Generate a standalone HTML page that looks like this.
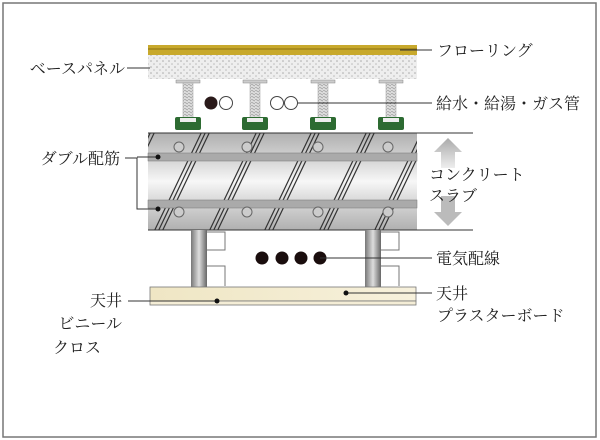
<!DOCTYPE html>
<html><head><meta charset="utf-8"><style>
body{margin:0;background:#fff}
svg{display:block}
text{font-family:"Liberation Serif","Noto Serif CJK SC","Noto Sans CJK JP",serif;font-size:16px;fill:#222}
</style></head><body>
<svg width="600" height="440" viewBox="0 0 600 440" xmlns="http://www.w3.org/2000/svg">
<defs>
<linearGradient id="slab" x1="0" y1="0" x2="0" y2="1">
<stop offset="0" stop-color="#b0b0b0"/><stop offset="0.3" stop-color="#d8d8d8"/><stop offset="0.5" stop-color="#f7f7f7"/><stop offset="0.7" stop-color="#d8d8d8"/><stop offset="1" stop-color="#b0b0b0"/></linearGradient>
<linearGradient id="post" x1="0" y1="0" x2="1" y2="0">
<stop offset="0" stop-color="#777"/><stop offset="0.5" stop-color="#ddd"/><stop offset="1" stop-color="#666"/></linearGradient>
<linearGradient id="board" x1="0" y1="0" x2="1" y2="0">
<stop offset="0" stop-color="#efe6c4"/><stop offset="1" stop-color="#f7f1dc"/></linearGradient>
<linearGradient id="arr" x1="0" y1="0" x2="0" y2="1">
<stop offset="0" stop-color="#aaa"/><stop offset="1" stop-color="#eee"/></linearGradient>
<pattern id="dots" width="6" height="6" patternUnits="userSpaceOnUse">
<rect width="6" height="6" fill="#eee"/><circle cx="1" cy="1" r="0.8" fill="#aaa"/><circle cx="4" cy="4" r="0.8" fill="#bbb"/></pattern>
<pattern id="thread" width="4" height="3" patternUnits="userSpaceOnUse">
<rect width="4" height="3" fill="#ddd"/><line x1="0" y1="0" x2="4" y2="2" stroke="#999" stroke-width="0.7"/></pattern>
<clipPath id="sc"><rect x="148" y="133" width="269" height="97"/></clipPath>
</defs>
<rect x="3" y="3" width="593" height="434" fill="none" stroke="#777" stroke-width="1.5"/>
<rect x="148" y="45" width="269" height="10" fill="#c8a92c"/>
<line x1="148" y1="49" x2="417" y2="49" stroke="#8a6f10" stroke-width="1"/>
<rect x="148" y="55" width="269" height="24" fill="url(#dots)"/>
<g id="b">
<rect x="176" y="80" width="24" height="3" fill="#ccc" stroke="#888" stroke-width="0.5"/>
<rect x="183" y="83" width="10" height="35" fill="url(#thread)" stroke="#999" stroke-width="0.5"/>
<rect x="175" y="117" width="26" height="13" rx="2" fill="#2d6b32"/>
<rect x="180" y="118" width="16" height="4" fill="#eee"/>
</g>
<use href="#b" x="67"/><use href="#b" x="135"/><use href="#b" x="203"/>
<circle cx="211" cy="103" r="6.5" fill="#2a1a1a"/>
<circle cx="226" cy="103" r="6.5" fill="#fff" stroke="#444"/>
<circle cx="277" cy="103" r="6.5" fill="#fff" stroke="#444"/>
<circle cx="291" cy="103" r="6.5" fill="#fff" stroke="#444"/>
<line x1="298" y1="103" x2="432" y2="103" stroke="#333"/>
<rect x="148" y="133" width="269" height="97" fill="url(#slab)"/>
<g clip-path="url(#sc)" stroke="#333" stroke-width="1.2">
<g id="h"><line x1="150" y1="240" x2="205" y2="125"/><line x1="154" y1="240" x2="209" y2="125"/><line x1="158" y1="240" x2="213" y2="125"/></g>
<use href="#h" x="55"/><use href="#h" x="110"/><use href="#h" x="165"/><use href="#h" x="220"/><use href="#h" x="275"/><use href="#h" x="-55"/>
</g>
<rect x="148" y="153" width="269" height="8" fill="#aaa" stroke="#777" stroke-width="0.5"/>
<rect x="148" y="200" width="269" height="8" fill="#aaa" stroke="#777" stroke-width="0.5"/>
<g fill="#ccc" stroke="#666">
<circle cx="179" cy="147" r="5"/><circle cx="247" cy="147" r="5"/><circle cx="318" cy="147" r="5"/><circle cx="388" cy="147" r="5"/>
<circle cx="179" cy="212" r="5"/><circle cx="247" cy="212" r="5"/><circle cx="318" cy="212" r="5"/><circle cx="388" cy="212" r="5"/>
</g>
<line x1="148" y1="133" x2="473" y2="133" stroke="#333"/>
<line x1="148" y1="230" x2="473" y2="230" stroke="#333"/>
<polygon points="448,138 462,152 455,152 455,168 441,168 441,152 434,152" fill="url(#arr)"/>
<polygon points="448,226 462,212 455,212 455,196 441,196 441,212 434,212" fill="#bbb"/>
<rect x="191" y="230" width="16" height="57" fill="url(#post)"/>
<rect x="365" y="230" width="16" height="57" fill="url(#post)"/>
<g fill="none" stroke="#777"><path d="M207 232h18v18h-18M207 266h18v20"/><path d="M381 232h18v18h-18M381 266h18v20"/></g>
<g fill="#1a0d0d"><circle cx="262" cy="258" r="6.5"/><circle cx="282" cy="258" r="6.5"/><circle cx="301" cy="258" r="6.5"/><circle cx="320" cy="258" r="6.5"/></g>
<line x1="320" y1="258" x2="432" y2="258" stroke="#333"/>
<rect x="150" y="287" width="266" height="14" fill="url(#board)" stroke="#777" stroke-width="0.8"/>
<rect x="150" y="301" width="266" height="4" fill="#f4edd6" stroke="#777" stroke-width="0.8"/>
<g stroke="#333" fill="none" stroke-width="1">
<line x1="400" y1="50" x2="432" y2="50"/>
<line x1="127" y1="68" x2="150" y2="68"/>
<path d="M125 158h12v51h21M137 157h21"/>
<line x1="346" y1="293" x2="432" y2="293"/>
<line x1="128" y1="301" x2="217" y2="301"/>
</g>
<circle cx="346" cy="293" r="2.5" fill="#111"/>
<circle cx="217" cy="301" r="2.5" fill="#111"/>
<circle cx="158" cy="157" r="2.5" fill="#111"/>
<circle cx="158" cy="209" r="2.5" fill="#111"/>
<text x="437" y="56">フローリング</text>
<text x="436" y="109">給水・給湯・ガス管</text>
<text x="429" y="180">コンクリート</text>
<text x="429" y="201">スラブ</text>
<text x="436" y="264">電気配線</text>
<text x="436" y="299">天井</text>
<text x="437" y="321">プラスターボード</text>
<text x="125" y="74" text-anchor="end">ベースパネル</text>
<text x="120" y="164" text-anchor="end">ダブル配筋</text>
<text x="122" y="306" text-anchor="end">天井</text>
<text x="122" y="329" text-anchor="end">ビニール</text>
<text x="53" y="353">クロス</text>
</svg>
</body></html>
